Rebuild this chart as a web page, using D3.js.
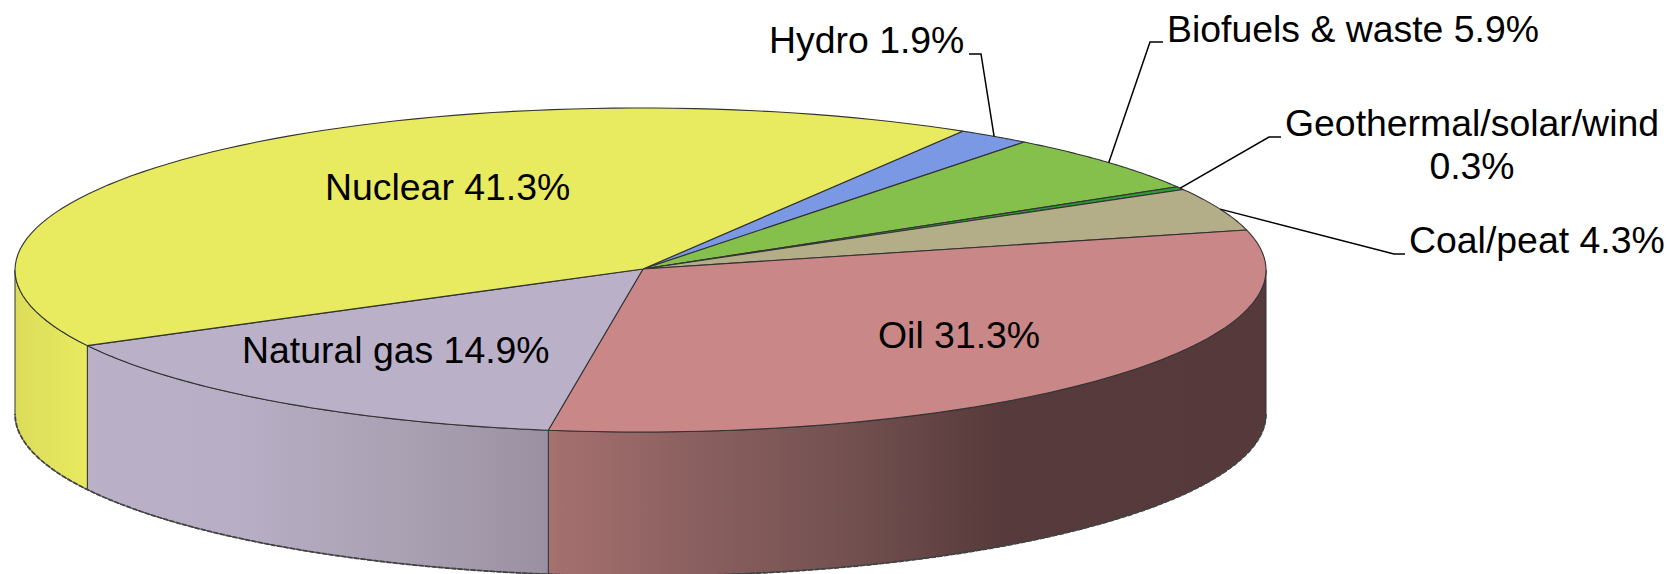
<!DOCTYPE html>
<html>

<head>
	<meta charset='utf-8'>
	<title>Pie 3D</title>
	<script type='text/javascript' src='https://cdn.jsdelivr.net/npm/d3@7'></script>
	<style>
		body { margin: 0; background: #fff; }
		svg { display: block; }
		text { font-family: 'Liberation Sans', Arial, sans-serif; font-size: 37.4px; fill: #000; }
	</style>
</head>

<body>
	<svg width='1670' height='574'></svg>
	<script>
		// clockwise from the top of the pie, starting at Hydro
		const names = ['Hydro', 'Biofuels & waste', 'Geothermal/solar/wind', 'Coal/peat', 'Oil', 'Natural gas', 'Nuclear']
		const values = [1.9, 5.9, 0.3, 4.3, 31.3, 14.9, 41.3]
		const colors = ['#7b98e4', '#86c04c', '#2e9b35', '#b3ad88', '#c98788', '#bab0c8', '#e8ea60']

		const svg = d3.select('svg')
		const cx = 640.5, cy = 270, rx = 625.5, ry = 162, depth = 144
		const apex = [643, 269]
		const rad = d => d * Math.PI / 180

		const pie = d3.pie().sort(null).startAngle(rad(31)).endAngle(rad(391))
		const arcs = pie(values).map((d, i) => ({ ...d, name: names[i], color: colors[i] }))

		const pt = a => [cx + rx * Math.sin(a), cy - ry * Math.cos(a)]
		const rim = (a0, a1) => d3.range(0, 81).map(k => pt(a0 + (a1 - a0) * k / 80))
		const line = d3.line()

		// wall shading, horizontal as in the original
		const defs = svg.append('defs')
		const grads = {
			Oil: [[550, '#a5706f'], [700, '#8a5f5f'], [850, '#735050'], [1000, '#573a3b'], [1266, '#563a3b']],
			'Natural gas': [[87, '#bab0c8'], [250, '#b7adc4'], [400, '#aaa1b3'], [550, '#9a90a2']],
			Nuclear: [[15, '#dcdc5a'], [87, '#e8ea60']]
		}
		Object.entries(grads).forEach(([k, stops], i) => {
			const x = d3.scaleLinear().domain(d3.extent(stops, s => s[0])).range([0, 1])
			defs.append('linearGradient')
				.attr('id', 'wall' + i)
				.attr('gradientUnits', 'userSpaceOnUse')
				.attr('x1', stops[0][0]).attr('x2', stops[stops.length - 1][0])
				.attr('y1', 0).attr('y2', 0)
				.selectAll('stop')
				.data(stops)
				.join('stop')
				.attr('offset', s => x(s[0]))
				.attr('stop-color', s => s[1])
			grads[k].id = 'wall' + i
		})

		// front walls, only the part of each slice between 90 and 270 degrees shows
		const walls = arcs
			.filter(d => grads[d.name])
			.map(d => {
				const a0 = Math.max(d.startAngle, rad(90))
				const a1 = Math.min(d.endAngle, rad(270))
				return { name: d.name, a0, a1 }
			})

		svg.append('g')
			.selectAll('path')
			.data(walls)
			.join('path')
			.attr('d', d => {
				const top = rim(d.a0, d.a1)
				const bottom = top.map(p => [p[0], p[1] + depth]).reverse()
				return line(top.concat(bottom)) + 'Z'
			})
			.attr('fill', d => `url(#${grads[d.name].id})`)
			.attr('stroke', '#333')
			.attr('stroke-width', 1)

		// rough lower edge
		svg.append('path')
			.attr('d', line(rim(rad(90), rad(270)).map(p => [p[0], p[1] + depth])))
			.attr('fill', 'none')
			.attr('stroke', '#444')
			.attr('stroke-width', 1.8)
			.attr('stroke-dasharray', '5 1.5')

		// top face
		svg.append('g')
			.selectAll('path')
			.data(arcs)
			.join('path')
			.attr('d', d => line([apex].concat(rim(d.startAngle, d.endAngle))) + 'Z')
			.attr('fill', d => d.color)
			.attr('stroke', '#333')
			.attr('stroke-width', 1.1)
			.attr('stroke-linejoin', 'round')

		// leaders start on the rim at the middle of the slice
		const callouts = {
			Hydro: { bend: [981, 54], end: [969, 54], x: 769, y: 53 },
			'Biofuels & waste': { bend: [1150, 42], end: [1163, 42], x: 1167, y: 42 },
			'Geothermal/solar/wind': { bend: [1269, 137], end: [1281, 137], x: 1285, y: 136 },
			'Coal/peat': { bend: [1394, 254], end: [1405, 254], x: 1409, y: 253 },
			Nuclear: { x: 325, y: 200 },
			Oil: { x: 878, y: 348 },
			'Natural gas': { x: 242, y: 363 }
		}

		svg.append('g')
			.selectAll('path')
			.data(arcs.filter(d => callouts[d.name].bend))
			.join('path')
			.attr('d', d => line([pt((d.startAngle + d.endAngle) / 2), callouts[d.name].bend, callouts[d.name].end]))
			.attr('fill', 'none')
			.attr('stroke', '#000')
			.attr('stroke-width', 1.5)

		const labels = svg.append('g')
			.selectAll('text')
			.data(arcs)
			.join('text')
			.attr('x', d => callouts[d.name].x)
			.attr('y', d => callouts[d.name].y)

		labels.filter(d => d.name !== 'Geothermal/solar/wind').text(d => `${d.name} ${d.value}%`)

		// this one wraps onto two centred lines
		const geo = labels.filter(d => d.name === 'Geothermal/solar/wind')
			.attr('x', 1472)
			.attr('text-anchor', 'middle')
		geo.append('tspan').attr('x', 1472).text(d => d.name)
		geo.append('tspan').attr('x', 1472).attr('y', 179).text(d => `${d.value}%`)
	</script>
</body>

</html>
